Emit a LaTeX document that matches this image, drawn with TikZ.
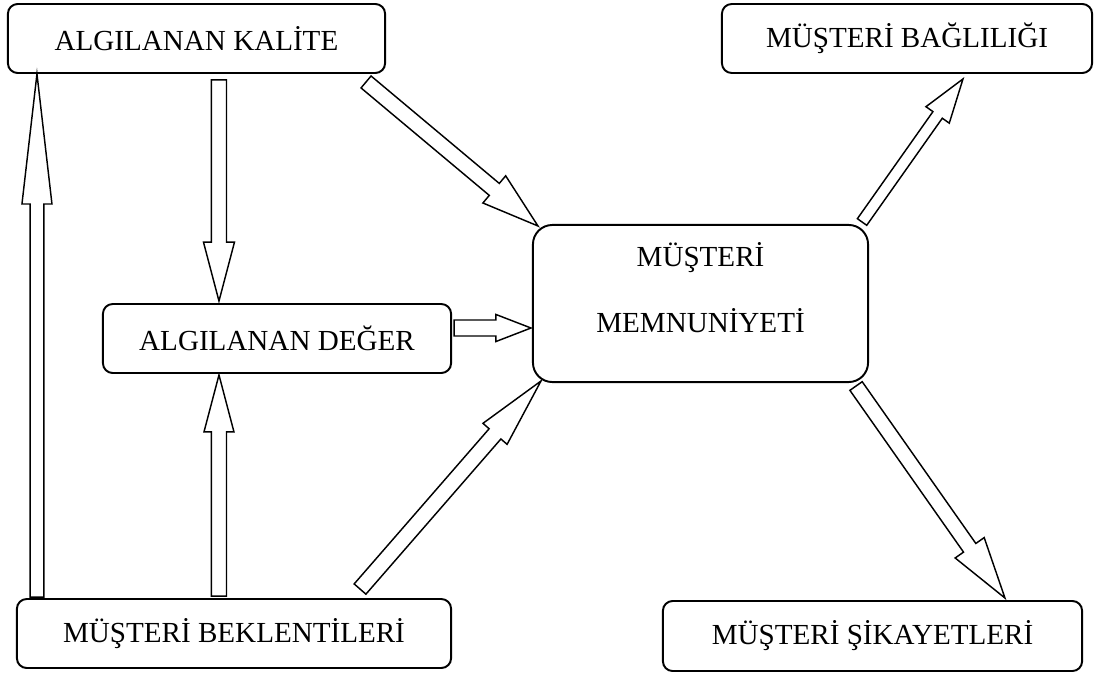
\documentclass[tikz,border=0pt]{standalone}
\usepackage{fontspec}
\setmainfont{Liberation Serif}
\usetikzlibrary{calc}

\tikzset{kutu/.style={draw,line width=0.8pt,rounded corners=4pt,inner sep=0pt,font=\fontsize{12}{14.4}\selectfont}}
\tikzset{blokok/.style={draw,line width=0.6pt,line join=miter,fill=white}}

% hollow block arrow: tail, tip, shaft half width, head length, head half width
\newcommand{\blokok}[5]{%
  \draw[blokok] ($(#1)!#3!90:(#2)$) -- ($(#2)!#4!(#1)!#3!90:(#2)$)
    -- ($(#2)!#4!(#1)!#5!90:(#2)$) -- (#2)
    -- ($(#2)!#4!(#1)!#5!-90:(#2)$) -- ($(#2)!#4!(#1)!#3!-90:(#2)$)
    -- ($(#1)!#3!-90:(#2)$) -- cycle;}

\begin{document}
\begin{tikzpicture}[x=0.0145cm,y=-0.0145cm]
    \useasboundingbox (0,0) rectangle (1098,675);
    % boxes
    \node[kutu,minimum width=5.467cm,minimum height=1cm] (kalite) at (196.5,38.5) {ALGILANAN KALİTE};
    \node[kutu,minimum width=5.365cm,minimum height=1cm] (baglilik) at (907,38.5) {MÜŞTERİ BAĞLILIĞI};
    \node[kutu,minimum width=5.046cm,minimum height=1cm] (deger) at (277,338.5) {ALGILANAN DEĞER};
    \node[kutu,rounded corners=8pt,minimum width=4.858cm,minimum height=2.277cm] (memnun) at (700.5,303.5)
        {\raisebox{1.5pt}[0pt][0pt]{\begin{tabular}{@{}c@{}}MÜŞTERİ\\[12.5pt]MEMNUNİYETİ\end{tabular}}};
    \node[kutu,minimum width=6.293cm,minimum height=1cm] (beklenti) at (234,633.5) {MÜŞTERİ BEKLENTİLERİ};
    \node[kutu,minimum width=6.076cm,minimum height=1.015cm] (sikayet) at (872.5,636) {MÜŞTERİ ŞİKAYETLERİ};

    % arrow ends
    \coordinate (b1) at ($(beklenti.north west)+(21,-1)$);
    \coordinate (k1) at ($(kalite.south west)+(30,0)$);
    \coordinate (k2) at ($(kalite.south west)+(212,6)$);
    \coordinate (d1) at ($(deger.north west)+(117,-2)$);
    \coordinate (b2) at ($(beklenti.north west)+(203,-2)$);
    \coordinate (d2) at ($(deger.south west)+(117,1)$);
    \coordinate (d3) at ($(deger.east)+(2,-10.5)$);
    \coordinate (m1) at ($(memnun.west)+(-1,24.5)$);
    \coordinate (k3) at ($(kalite.south east)+(-20,8)$);
    \coordinate (m2) at ($(memnun.north west)+(6,2)$);
    \coordinate (b3) at ($(beklenti.north east)+(-92,-9)$);
    \coordinate (m3) at ($(memnun.south west)+(9,-2)$);
    \coordinate (m4) at ($(memnun.north east)+(-7,-2)$);
    \coordinate (g1) at ($(baglilik.south west)+(242,5)$);
    \coordinate (m5) at ($(memnun.south east)+(-13,3)$);
    \coordinate (s1) at ($(sikayet.north west)+(343,-2)$);

    % block arrows
    \blokok{b1}{k1}{0.1cm}{1.885cm}{0.2175cm}
    \blokok{k2}{d1}{0.109cm}{0.855cm}{0.225cm}
    \blokok{b2}{d2}{0.109cm}{0.826cm}{0.2175cm}
    \blokok{d3}{m1}{0.116cm}{0.5075cm}{0.196cm}
    \blokok{k3}{m2}{0.113cm}{0.826cm}{0.257cm}
    \blokok{b3}{m3}{0.113cm}{1.015cm}{0.232cm}
    \blokok{m4}{g1}{0.083cm}{0.638cm}{0.207cm}
    \blokok{m5}{s1}{0.109cm}{0.89cm}{0.257cm}
\end{tikzpicture}
\end{document}
